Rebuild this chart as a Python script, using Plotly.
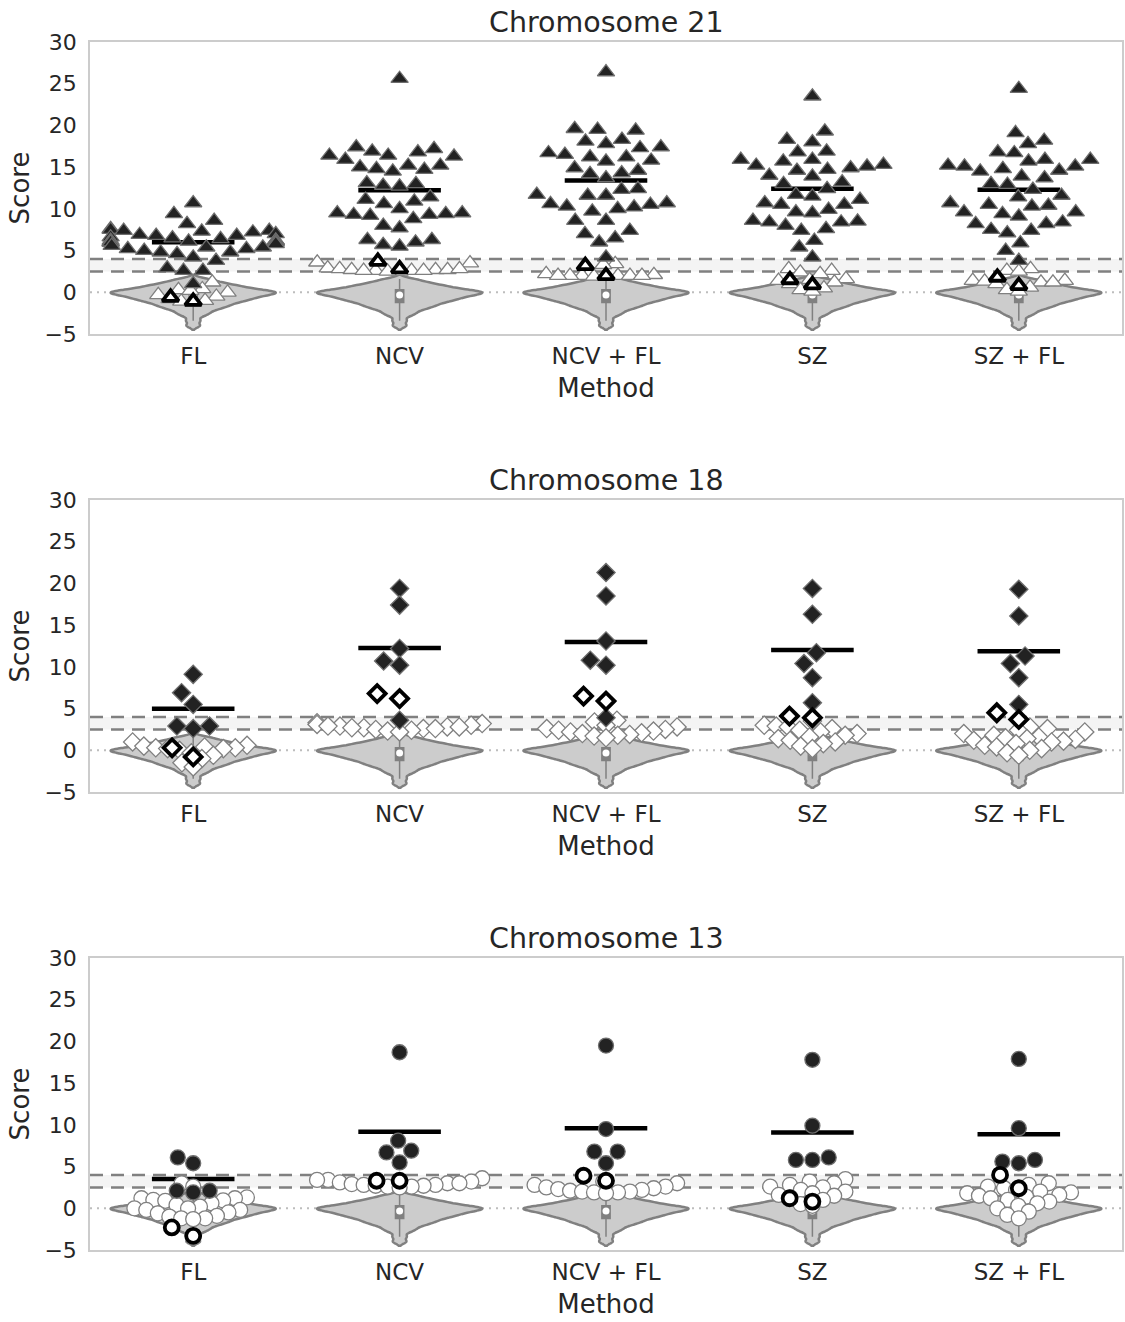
import numpy as np
import plotly.graph_objects as go

METHODS = ["FL", "NCV", "NCV + FL", "SZ", "SZ + FL"]
CHROMOSOMES = ["Chromosome 21", "Chromosome 18", "Chromosome 13"]
Y_TICKS = [-5, 0, 5, 10, 15, 20, 25, 30]
THRESHOLD_LOW = 2.5
THRESHOLD_HIGH = 4.0

# ---------------- Chromosome 21 ----------------
CHR21_FL_POS = [10.7, 9.4, 8.6, 8.2, 7.6, 7.5, 7.4, 7.4, 7.3, 7.2, 7.0, 6.9, 6.8, 6.8, 6.6, 6.5, 6.4, 6.2, 6.2, 6.2,
                6.1, 6.0, 6.0, 6.0, 5.8, 5.6, 5.4, 5.4, 5.2, 5.2, 5.0, 4.8, 4.8, 4.6, 4.2, 3.8, 2.9, 2.6, 2.6, 1.0]
CHR21_FL_LOW = [1.2, 0.4, 0.3, 0.2, 0.0, -0.3, -0.5, -0.8, -1.0, -1.1, -1.2]
CHR21_FL_MARK = [-0.6, -1.1]
CHR21_NCV_POS = [25.6, 17.2, 16.9, 16.4, 16.3, 16.4, 16.8, 17.4, 15.9, 15.2, 15.0, 14.7, 14.5, 14.8, 15.2, 12.8,
                 12.7, 13.0, 13.1, 11.4, 10.6, 10.9, 11.1, 9.5, 9.3, 9.2, 9.5, 8.8, 9.3, 9.4, 10.0, 8.0, 7.7,
                 6.3, 6.0, 5.5, 5.7, 6.3]
CHR21_NCV_LOW = [3.6, 3.5, 2.9, 2.8, 2.7, 2.7, 2.6, 2.6, 2.6, 2.5, 2.5, 2.6, 2.7, 2.8]
CHR21_NCV_MARK = [3.7, 2.8]
CHR21_NCVFL_POS = [26.4, 19.5, 19.6, 19.4, 18.3, 18.1, 17.4, 17.3, 17.8, 16.7, 16.5, 16.2, 16.2, 15.8, 15.7, 14.6,
                   14.3, 14.2, 14.9, 13.7, 12.4, 12.3, 11.7, 11.6, 11.6, 10.5, 10.2, 10.0, 9.7, 10.3, 10.6, 10.7,
                   8.6, 8.6, 7.0, 6.5, 7.4, 6.0, 4.2]
CHR21_NCVFL_LOW = [3.4, 3.3, 2.2, 2.1, 2.0, 2.0, 2.0, 1.9, 2.0, 2.0, 2.0, 1.9]
CHR21_NCVFL_MARK = [3.2, 2.0]
CHR21_SZ_POS = [23.5, 19.3, 18.3, 18.0, 16.9, 16.8, 15.9, 15.9, 15.2, 14.9, 15.7, 15.3, 15.1, 14.7, 14.6, 13.9,
                14.0, 13.2, 13.0, 12.4, 11.7, 11.5, 10.7, 10.5, 11.1, 10.5, 9.6, 9.5, 9.9, 8.6, 8.5, 8.0, 8.4,
                8.4, 7.4, 7.6, 6.2, 5.4, 4.2]
CHR21_SZ_LOW = [2.8, 2.6, 2.4, 2.2, 1.6, 1.5, 1.4, 1.2, 1.0, 0.5, 0.3, 0.1]
CHR21_SZ_MARK = [1.5, 0.9]
CHR21_SZFL_POS = [24.4, 19.1, 17.8, 18.2, 16.7, 16.8, 15.9, 15.9, 15.1, 14.8, 15.7, 15.2, 15.1, 14.5, 14.6, 13.7,
                  13.9, 12.9, 13.0, 12.3, 11.6, 11.4, 10.5, 10.3, 10.7, 10.4, 9.4, 9.1, 9.6, 9.6, 8.4, 7.5, 7.1,
                  7.4, 8.2, 8.2, 5.9, 5.0, 3.8]
CHR21_SZFL_LOW = [2.8, 2.6, 2.5, 1.4, 1.4, 1.3, 1.2, 1.2, 1.0, 0.6, 0.3, 0.1]
CHR21_SZFL_MARK = [1.8, 0.8]

# ---------------- Chromosome 18 ----------------
CHR18_FL_POS = [9.1, 6.9, 5.5, 2.9, 2.6, 2.9]
CHR18_FL_LOW = [1.0, 0.6, 0.5, 0.4, 0.3, 0.3, 0.2, 0.2, 0.0, -0.3, -0.6, -1.0, -1.5, -2.0]
CHR18_FL_MARK = [0.3, -0.8]
CHR18_NCV_POS = [19.4, 17.4, 12.2, 10.7, 10.2, 3.6]
CHR18_NCV_LOW = [3.3, 3.2, 3.1, 3.0, 2.9, 2.9, 2.8, 2.8, 2.7, 2.7, 2.6, 2.6, 2.5, 2.4, 2.3, 2.2]
CHR18_NCV_MARK = [6.8, 6.2]
CHR18_NCVFL_POS = [21.3, 18.5, 13.1, 10.8, 10.2, 3.9]
CHR18_NCVFL_LOW = [3.6, 3.4, 3.0, 2.8, 2.6, 2.5, 2.4, 2.3, 2.2, 2.1, 2.0, 1.9, 1.8, 1.7, 1.5]
CHR18_NCVFL_MARK = [6.5, 5.9]
CHR18_SZ_POS = [19.4, 16.3, 11.7, 10.4, 8.7, 5.7]
CHR18_SZ_LOW = [3.5, 3.0, 2.9, 2.8, 2.6, 2.4, 2.2, 2.0, 1.8, 1.6, 1.4, 1.2, 1.0, 0.8, 0.5, 0.2]
CHR18_SZ_MARK = [4.1, 3.9]
CHR18_SZFL_POS = [19.3, 16.1, 11.3, 10.4, 8.7, 5.5]
CHR18_SZFL_LOW = [2.8, 2.6, 2.4, 2.2, 2.0, 1.8, 1.6, 1.5, 1.4, 1.3, 1.2, 1.1, 1.0, 0.8, 0.6, 0.4, 0.2, 0.0,
                  -0.3, -0.6]
CHR18_SZFL_MARK = [4.5, 3.7]

# ---------------- Chromosome 13 ----------------
CHR13_FL_POS = [6.1, 5.4, 2.1, 1.9, 2.1]
CHR13_FL_LOW = [3.0, 2.6, 1.3, 1.2, 1.2, 1.0, 0.95, 0.9, 0.6, 0.4, 0.2, 0.0, 0.0, -0.2, -0.2, -0.5, -0.6, -0.9,
                -1.0, -1.2, -1.2, -1.3]
CHR13_FL_MARK = [-2.3, -3.3]
CHR13_NCV_POS = [18.7, 8.1, 6.7, 6.9, 5.5]
CHR13_NCV_LOW = [3.6, 3.4, 3.4, 3.2, 3.1, 3.0, 3.0, 2.9, 2.8, 2.8, 2.7, 2.7, 2.6, 2.6, 2.5]
CHR13_NCV_MARK = [3.3, 3.3]
CHR13_NCVFL_POS = [19.5, 9.5, 6.8, 6.8, 5.4]
CHR13_NCVFL_LOW = [3.2, 3.0, 2.8, 2.6, 2.5, 2.4, 2.3, 2.2, 2.1, 2.0, 2.0, 1.9, 1.9, 1.8]
CHR13_NCVFL_MARK = [3.9, 3.3]
CHR13_SZ_POS = [17.8, 9.9, 5.8, 5.8, 6.1]
CHR13_SZ_LOW = [3.5, 3.2, 3.0, 2.8, 2.6, 2.5, 2.2, 2.0, 1.8, 1.6, 1.5, 1.3, 1.0, 0.5, 0.3]
CHR13_SZ_MARK = [1.2, 0.8]
CHR13_SZFL_POS = [17.9, 9.6, 5.6, 5.4, 5.8]
CHR13_SZFL_LOW = [3.0, 2.8, 2.6, 2.4, 2.2, 2.0, 1.9, 1.8, 1.6, 1.5, 1.4, 1.2, 1.0, 0.8, 0.6, 0.3, 0.0, -0.4,
                  -0.8, -1.2]
CHR13_SZFL_MARK = [4.0, 2.4]

# ---------------- Euploid reference scores (violins, estimated from the shapes) ----------------
EUPLOID_SCORES = [1.60, 1.44, 1.24, 1.10, 0.99, 0.89, 0.80, 0.71, 0.64, 0.56, 0.49, 0.42, 0.36, 0.29, 0.23, 0.18,
                  0.12, 0.07, 0.02, 0.0, -0.02, -0.07, -0.12, -0.17, -0.22, -0.27, -0.33, -0.38, -0.44, -0.50,
                  -0.56, -0.62, -0.68, -0.75, -0.82, -0.89, -0.96, -1.03, -1.11, -1.19, -1.28, -1.39, -1.49,
                  -1.60, -1.70, -1.83, -1.96, -2.10, -2.34, -2.56, -2.83, -3.40, -4.00]

# ---------------- assemble ----------------
PANELS = [
    dict(pos=[CHR21_FL_POS, CHR21_NCV_POS, CHR21_NCVFL_POS, CHR21_SZ_POS, CHR21_SZFL_POS],
         low=[CHR21_FL_LOW, CHR21_NCV_LOW, CHR21_NCVFL_LOW, CHR21_SZ_LOW, CHR21_SZFL_LOW],
         mark=[CHR21_FL_MARK, CHR21_NCV_MARK, CHR21_NCVFL_MARK, CHR21_SZ_MARK, CHR21_SZFL_MARK],
         symbol="triangle-up", size=15),
    dict(pos=[CHR18_FL_POS, CHR18_NCV_POS, CHR18_NCVFL_POS, CHR18_SZ_POS, CHR18_SZFL_POS],
         low=[CHR18_FL_LOW, CHR18_NCV_LOW, CHR18_NCVFL_LOW, CHR18_SZ_LOW, CHR18_SZFL_LOW],
         mark=[CHR18_FL_MARK, CHR18_NCV_MARK, CHR18_NCVFL_MARK, CHR18_SZ_MARK, CHR18_SZFL_MARK],
         symbol="diamond", size=14),
    dict(pos=[CHR13_FL_POS, CHR13_NCV_POS, CHR13_NCVFL_POS, CHR13_SZ_POS, CHR13_SZFL_POS],
         low=[CHR13_FL_LOW, CHR13_NCV_LOW, CHR13_NCVFL_LOW, CHR13_SZ_LOW, CHR13_SZFL_LOW],
         mark=[CHR13_FL_MARK, CHR13_NCV_MARK, CHR13_NCVFL_MARK, CHR13_SZ_MARK, CHR13_SZFL_MARK],
         symbol="circle", size=15),
]

# ---------------- geometry helpers ----------------
W, H = 1125, 1322
MARGIN = dict(l=90, r=3, t=42, b=72)
PLOT_W = W - MARGIN["l"] - MARGIN["r"]
PLOT_H = H - MARGIN["t"] - MARGIN["b"]
PANEL_PX = [(42, 334), (500, 792), (958, 1250)]  # top/bottom pixel of each panel
DOMAINS = [((H - MARGIN["b"] - b) / PLOT_H, (H - MARGIN["b"] - t) / PLOT_H) for t, b in PANEL_PX]
X_RANGE = [-0.5, 4.5]
Y_RANGE = [-5, 30]
PX_X = PLOT_W / (X_RANGE[1] - X_RANGE[0])
PX_Y = (PANEL_PX[0][1] - PANEL_PX[0][0]) / (Y_RANGE[1] - Y_RANGE[0])


def swarm(values, diameter, half_width=0.4):
    """Beeswarm offsets (in category units) computed from the data values."""
    vals = np.asarray(values, float)
    order = np.argsort(vals, kind="stable")
    placed = []
    offs = np.zeros(len(vals))
    for idx in order:
        y = vals[idx] * PX_Y
        nbrs = [(px, py) for px, py in placed if abs(py - y) < diameter]
        cands = [0.0]
        for px, py in nbrs:
            dx = np.sqrt(max(diameter ** 2 - (y - py) ** 2, 0.0))
            cands += [px - dx, px + dx]
        cands.sort(key=abs)
        chosen = cands[-1]
        for c in cands:
            if all((c - px) ** 2 + (y - py) ** 2 >= diameter ** 2 - 1e-6 for px, py in nbrs):
                chosen = c
                break
        placed.append((chosen, y))
        offs[idx] = chosen
    lim = half_width * PX_X
    return np.clip(offs, -lim, lim) / PX_X


TEXT = "#262626"
FONT = "DejaVu Sans"

fig = go.Figure()
shapes = []
annotations = []
layout_axes = {}

for p, panel in enumerate(PANELS):
    sfx = "" if p == 0 else str(p + 1)
    xa, ya = "x" + sfx, "y" + sfx

    # background guides
    shapes.append(dict(type="rect", xref=xa + " domain", yref=ya, x0=0, x1=1,
                       y0=THRESHOLD_LOW, y1=THRESHOLD_HIGH, fillcolor="#f4f4f4", line_width=0, layer="below"))
    for thr in (THRESHOLD_LOW, THRESHOLD_HIGH):
        shapes.append(dict(type="line", xref=xa + " domain", yref=ya, x0=0, x1=1, y0=thr, y1=thr,
                           line=dict(color="#808080", width=2.5, dash="13px,8px"), layer="below"))
    shapes.append(dict(type="line", xref=xa + " domain", yref=ya, x0=0, x1=1, y0=0, y1=0,
                       line=dict(color="#bdbdbd", width=2, dash="2px,5px"), layer="below"))

    # violins of euploid scores
    for i in range(len(METHODS)):
        fig.add_trace(go.Violin(
            x=[i] * len(EUPLOID_SCORES), y=EUPLOID_SCORES, xaxis=xa, yaxis=ya, width=0.8, scalemode="width",
            bandwidth=0.25, spanmode="soft", fillcolor="#cccccc",
            line=dict(color="#808080", width=2.5), points=False,
            box=dict(visible=True, width=0.05, fillcolor="#808080", line=dict(color="#808080", width=1.5)),
            meanline=dict(visible=False), hoverinfo="skip", showlegend=False))
    med = float(np.median(EUPLOID_SCORES))
    fig.add_trace(go.Scatter(
        x=list(range(len(METHODS))), y=[med] * len(METHODS), xaxis=xa, yaxis=ya,
        mode="markers", marker=dict(color="white", size=7, line_width=0), hoverinfo="skip", showlegend=False))

    # mean lines of positive samples
    mx, my = [], []
    for i, vals in enumerate(panel["pos"]):
        m = float(np.mean(vals))
        mx += [i - 0.2, i + 0.2, None]
        my += [m, m, None]
    fig.add_trace(go.Scatter(x=mx, y=my, xaxis=xa, yaxis=ya, mode="lines",
                             line=dict(color="black", width=4.5), hoverinfo="skip", showlegend=False))

    sym, sz = panel["symbol"], panel["size"]
    for i in range(len(METHODS)):
        low = panel["low"][i]
        fig.add_trace(go.Scatter(
            x=i + swarm(low, 12), y=low, xaxis=xa, yaxis=ya, mode="markers",
            marker=dict(symbol=sym, size=sz, color="white", line=dict(color="#808080", width=1.3)),
            hoverinfo="skip", showlegend=False))
        pos = panel["pos"][i]
        fig.add_trace(go.Scatter(
            x=i + swarm(pos, 16.5), y=pos, xaxis=xa, yaxis=ya, mode="markers",
            marker=dict(symbol=sym, size=sz, color="#222222", line=dict(color="#6e6e6e", width=1.3)),
            hoverinfo="skip", showlegend=False))
        mk = panel["mark"][i]
        fig.add_trace(go.Scatter(
            x=i + swarm(mk, 23), y=mk, xaxis=xa, yaxis=ya, mode="markers",
            marker=dict(symbol=sym, size=sz - 1, color="white", line=dict(color="black", width=3.8)),
            hoverinfo="skip", showlegend=False))

    layout_axes["xaxis" + sfx] = dict(
        domain=[0, 1], anchor=ya, range=X_RANGE, tickvals=list(range(len(METHODS))), ticktext=METHODS,
        showgrid=False, zeroline=False, showline=True, mirror=True, linecolor="#cccccc", linewidth=1.5,
        ticks="outside", ticklen=1, tickcolor="rgba(0,0,0,0)", tickfont=dict(size=23, color=TEXT),
        automargin=False, title=dict(text="Method", font=dict(size=26, color=TEXT), standoff=10))
    layout_axes["yaxis" + sfx] = dict(
        domain=list(DOMAINS[p]), anchor=xa, range=Y_RANGE, tickvals=Y_TICKS,
        showgrid=False, zeroline=False, showline=True, mirror=True, linecolor="#cccccc", linewidth=1.5,
        ticks="outside", ticklen=7, tickcolor="rgba(0,0,0,0)", tickfont=dict(size=22, color=TEXT),
        automargin=False, title=dict(text="Score", font=dict(size=26, color=TEXT), standoff=7))
    annotations.append(dict(text=CHROMOSOMES[p], xref="paper", yref="paper", x=0.5, y=DOMAINS[p][1],
                            xanchor="center", yanchor="bottom", yshift=1, showarrow=False,
                            font=dict(size=28.5, color=TEXT)))

fig.update_layout(
    width=W, height=H, autosize=False, margin=MARGIN, paper_bgcolor="white", plot_bgcolor="white",
    font=dict(family=FONT, color=TEXT), showlegend=False, shapes=shapes, annotations=annotations,
    violinmode="overlay", **layout_axes)

POST = ("document.documentElement.style.margin='0';document.body.style.margin='0';"
        "document.body.style.padding='0';document.body.style.overflow='hidden';"
        "Plotly.relayout('{plot_id}', {width: %d, height: %d});" % (W, H))
fig.write_html("out.html", config={"responsive": False, "displayModeBar": False}, post_script=POST)
